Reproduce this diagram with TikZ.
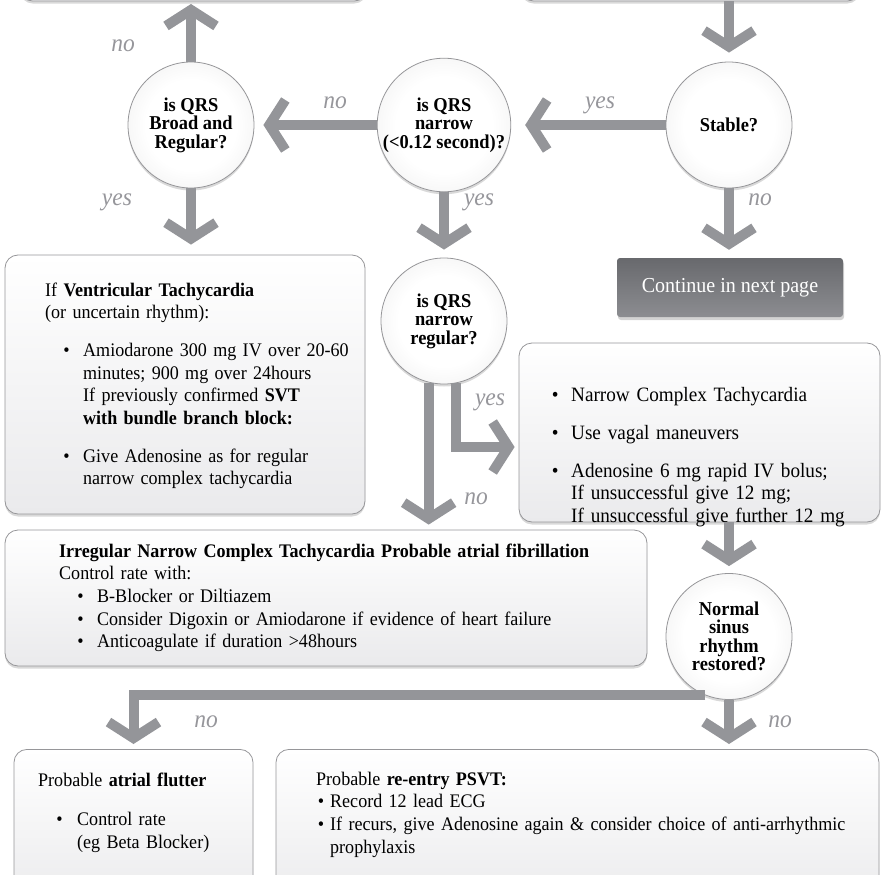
\documentclass[tikz,border=0pt]{standalone}
\usepackage{fontspec}
\setmainfont{Liberation Serif}[FakeStretch=0.94]
\usepackage{xcolor}
\usetikzlibrary{arrows.meta,calc,shadows}

\definecolor{arrgray}{RGB}{148,149,153}
\definecolor{labgray}{RGB}{150,150,155}
\definecolor{boxline}{RGB}{150,150,153}
\definecolor{boxbot}{RGB}{234,234,236}
\definecolor{circline}{RGB}{150,150,153}
\definecolor{conttop}{RGB}{104,105,109}
\definecolor{contbot}{RGB}{140,141,145}

\pgfdeclareradialshading{glossy}{\pgfpoint{0bp}{0bp}}{color(0bp)=(white); color(18bp)=(white); color(30bp)=(black!5); color(39bp)=(black!13); color(45bp)=(black!24); color(50bp)=(black!42)}

\newcommand{\bitem}[3]{\par\leftskip=#1\relax\noindent\llap{\textbullet\hspace{#2}}#3\par}

\begin{document}
\begin{tikzpicture}[
  x=1pt, y=-1pt,
  box/.style={draw=boxline, line width=0.8pt, rounded corners=13pt, top color=white, bottom color=boxbot,
    drop shadow={opacity=0.3, shadow xshift=0pt, shadow yshift=-2.5pt}},
  dec/.style={circle, draw=circline, line width=0.8pt, minimum size=126pt, inner sep=0pt, shading=glossy,
    align=center, font=\bfseries\fontsize{19.6}{18.5}\selectfont,
    drop shadow={opacity=0.3, shadow xshift=0pt, shadow yshift=-2.5pt}},
  contbox/.style={rounded corners=3pt, minimum width=226pt, minimum height=59pt, top color=conttop, bottom color=contbot,
    text=white, font=\fontsize{21.3}{21.3}\selectfont, drop shadow={opacity=0.35, shadow xshift=1pt, shadow yshift=-3pt}},
  txt/.style={inner sep=0pt, align=left, font=\fontsize{19.2}{22.7}\selectfont},
  lab/.style={inner sep=0pt, text=labgray, font=\itshape\fontsize{25}{25}\selectfont},
  garr/.style={draw=arrgray, line width=10pt, -{Straight Barb[sharp, length=16pt, width=50pt]}}
]
  \useasboundingbox (0,0) rectangle (881,875);
  \clip (0,0) rectangle (881,875);

  \node[box, minimum width=347pt, minimum height=80pt, anchor=south] (prevL) at (193.5,1.5) {};
  \node[box, minimum width=339pt, minimum height=80pt, anchor=south] (prevR) at (690.5,1.5) {};

  \node[dec] (broad) at (191,125) {is QRS\\Broad and\\Regular?};
  \node[dec] (narrow) at (444,125) {is QRS\\narrow\\(<0.12 second)?};
  \node[dec] (stable) at (729,125) {Stable?};
  \node[dec] (reg) at (444,321) {is QRS\\narrow\\regular?};
  \node[dec] (normal) at (729,636.5) {Normal\\sinus\\rhythm\\restored?};

  \node[contbox] (cont) at (730,287.5) {Continue in next page};

  \node[box, minimum width=360pt, minimum height=259pt] (vt) at (185,384.5) {};
  \node[txt, text width=320pt, anchor=base west] (vtText) at (45,296) {If \textbf{Ventricular Tachycardia}\\(or uncertain rhythm):\par
    \vspace{15pt}
    \bitem{38pt}{13.5pt}{Amiodarone 300 mg IV over 20-60\\minutes; 900 mg over 24hours\\If previously confirmed \textbf{SVT}\\\textbf{with bundle branch block:}}
    \vspace{15pt}
    \bitem{38pt}{13.5pt}{Give Adenosine as for regular\\narrow complex tachycardia}};

  \node[box, minimum width=361pt, minimum height=179pt] (nct) at (699.5,432.5) {};
  \node[txt, text width=320pt, anchor=base west, font=\fontsize{20.4}{22.7}\selectfont] (nctText) at (552,379) {\bitem{19pt}{12.5pt}{Narrow Complex Tachycardia}
    \vspace{15pt}
    \bitem{19pt}{12.5pt}{Use vagal maneuvers}
    \vspace{15pt}
    \bitem{19pt}{12.5pt}{Adenosine 6 mg rapid IV bolus;\\If unsuccessful give 12 mg;\\If unsuccessful give further 12 mg}};

  \node[box, minimum width=642pt, minimum height=136pt] (irr) at (326,598) {};
  \node[txt, text width=580pt, anchor=base west] (irrText) at (59,557) {\textbf{Irregular Narrow Complex Tachycardia Probable atrial fibrillation}\\Control rate with:
    \bitem{38pt}{13.5pt}{B-Blocker or Diltiazem}
    \bitem{38pt}{13.5pt}{Consider Digoxin or Amiodarone if evidence of heart failure}
    \bitem{38pt}{13.5pt}{Anticoagulate if duration >48hours}};

  \node[box, minimum width=239pt, minimum height=160pt, anchor=north] (flutter) at (133.5,749) {};
  \node[txt, text width=210pt, anchor=base west] (flutterText) at (38,786) {Probable \textbf{atrial flutter}\par
    \vspace{17pt}
    \bitem{39pt}{14.5pt}{Control rate\\(eg Beta Blocker)}};

  \node[box, minimum width=603pt, minimum height=160pt, anchor=north] (psvt) at (577.5,749) {};
  \node[txt, text width=560pt, anchor=base west] (psvtText) at (316,785) {Probable \textbf{re-entry PSVT:}
    \bitem{14pt}{6pt}{Record 12 lead ECG}
    \bitem{14pt}{6pt}{If recurs, give Adenosine again \& consider choice of anti-arrhythmic\\prophylaxis}};

  \draw[garr, shorten >=2.5pt] (broad.north) -- (broad.north |- prevL.south);
  \draw[garr, shorten >=9pt] (stable.north |- prevR.south) -- (stable.north);
  \draw[garr, shorten >=14pt] (stable) -- (narrow);
  \draw[garr, shorten >=9pt] (narrow) -- (broad);
  \draw[garr, shorten >=10pt] (broad.south) -- (broad.south |- vt.north);
  \draw[garr, shorten >=8pt] (narrow) -- (reg);
  \draw[garr, shorten >=8pt] (stable.south) -- (stable.south |- cont.north);
  \draw[garr, shorten >=5pt] (reg.-104) -- (reg.-104 |- irr.north);
  \draw[garr, shorten >=4pt] (reg.-79) |- ($(nct.west)+(0,14.5)$);
  \draw[garr, shorten >=7pt] (normal.north |- nct.south) -- (normal.north);
  \draw[garr, shorten >=5pt] (normal.-112) -| (flutter.north);
  \draw[garr, shorten >=5pt] (normal.south) -- (normal.south |- psvt.north);

  \node[lab, anchor=base] (noUp) at (123,52) {no};
  \node[lab, anchor=base] (yesDown) at (117,205) {yes};
  \node[lab, anchor=base] (noLeft) at (335,108) {no};
  \node[lab, anchor=base] (yesLeft) at (600,108) {yes};
  \node[lab, anchor=base] (yesNarrow) at (479,205) {yes};
  \node[lab, anchor=base] (noStable) at (760,205) {no};
  \node[lab, anchor=base] (yesReg) at (490,405) {yes};
  \node[lab, anchor=base] (noReg) at (476,504) {no};
  \node[lab, anchor=base] (noFlutter) at (206,727) {no};
  \node[lab, anchor=base] (noPsvt) at (780,727) {no};
\end{tikzpicture}
\end{document}
